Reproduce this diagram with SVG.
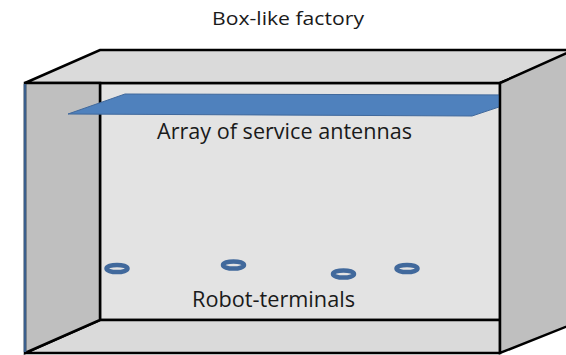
<svg xmlns="http://www.w3.org/2000/svg" width="566" height="355" viewBox="0 0 566 355">
<style>
.edge{stroke:#000;stroke-width:2.5;stroke-linejoin:miter}
.lbl{font-family:"Open Sans","Liberation Sans",sans-serif;fill:#1a1a1a}
.ring{fill:none;stroke:#41699c;stroke-width:4.5}
</style>
<rect width="566" height="355" fill="#fff"/>
<g id="factory">
  <polygon id="back-wall" points="100,83 500,83 500,320 100,320" fill="#e3e3e3" class="edge"/>
  <polygon id="top-face" points="25,83 100,50 578,50 500,83" fill="#dadada" class="edge"/>
  <polygon id="floor" points="25,353 100,320 500,320 500,353" fill="#dadada" class="edge"/>
  <polygon id="left-wall" points="25,83 100,83 100,320 25,353" fill="#bfbfbf" class="edge"/>
  <line x1="25" y1="84" x2="25" y2="352" stroke="#3b5f8c" stroke-width="2.5"/>
</g>
<g id="antennas">
  <polygon points="68,114 125,94 535,95 472,116" fill="#4f81bd" stroke="#41699c" stroke-width="1"/>
</g>
<g id="right-wall">
  <polygon points="500,83 578,48 578,322 500,353" fill="#bfbfbf" class="edge"/>
</g>
<g id="terminals">
  <ellipse class="ring" cx="117" cy="268.5" rx="10.5" ry="3.6"/>
  <ellipse class="ring" cx="233.5" cy="265" rx="10.5" ry="3.6"/>
  <ellipse class="ring" cx="343.5" cy="274" rx="10.5" ry="3.6"/>
  <ellipse class="ring" cx="407" cy="268.5" rx="10.5" ry="3.6"/>
</g>
<g id="labels">
  <text class="lbl" x="212" y="25" font-size="18" textLength="152" lengthAdjust="spacingAndGlyphs">Box-like factory</text>
  <text class="lbl" x="157" y="138.5" font-size="21" textLength="255" lengthAdjust="spacingAndGlyphs">Array of service antennas</text>
  <text class="lbl" x="192" y="307" font-size="21" textLength="163" lengthAdjust="spacingAndGlyphs">Robot-terminals</text>
</g>
</svg>
